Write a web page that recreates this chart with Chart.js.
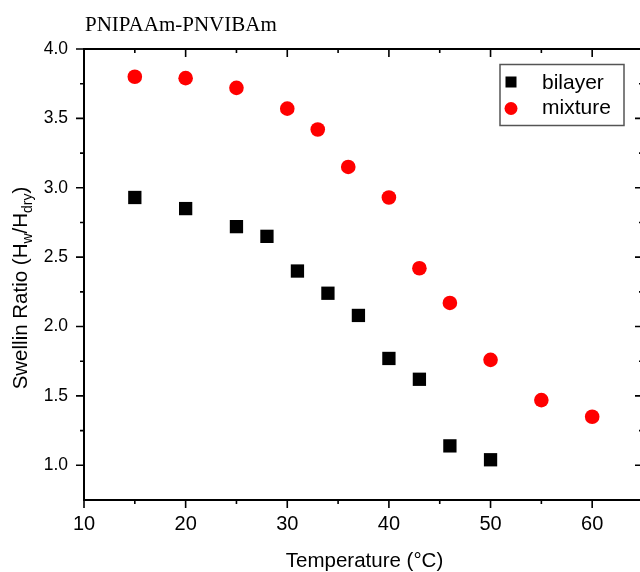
<!DOCTYPE html>
<html>
<head>
<meta charset="utf-8">
<script src="https://cdn.jsdelivr.net/npm/chart.js@4/dist/chart.umd.min.js"></script>
<style>
  html, body { margin: 0; padding: 0; background: #fff; overflow: hidden; width: 640px; height: 572px; }
  canvas { display: block; }
</style>
</head>
<body>
<canvas id="chart" width="680" height="572"></canvas>
<script>
// Swelling ratio vs. temperature for the two gel architectures
const temperatureBilayer = [15, 20, 25, 28, 31, 34, 37, 40, 43, 46, 50];
const ratioBilayer       = [2.93, 2.85, 2.72, 2.65, 2.40, 2.24, 2.08, 1.77, 1.62, 1.14, 1.04];
const temperatureMixture = [15, 20, 25, 30, 33, 36, 40, 43, 46, 50, 55, 60];
const ratioMixture       = [3.80, 3.79, 3.72, 3.57, 3.42, 3.15, 2.93, 2.42, 2.17, 1.76, 1.47, 1.35];

// Axis ticks
const xMajorTicks = [10, 20, 30, 40, 50, 60];
const xMinorTicks = [15, 25, 35, 45, 55, 65];
const yMajorTicks = [1.0, 1.5, 2.0, 2.5, 3.0, 3.5, 4.0];
const yMinorTicks = [1.25, 1.75, 2.25, 2.75, 3.25, 3.75];

const chartTitle = 'PNIPAAm-PNVIBAm';
const xTitle = 'Temperature (°C)';

const toPoints = (xs, ys) => xs.map((x, i) => ({ x, y: ys[i] }));

// Frame, inward/outward tick marks, titles and the boxed legend
const decorations = {
  id: 'decorations',
  afterDraw(chart) {
    const ctx = chart.ctx;
    const { left, right, top, bottom } = chart.chartArea;
    const xs = chart.scales.x, ys = chart.scales.y;
    ctx.save();

    // frame
    ctx.strokeStyle = '#000';
    ctx.lineWidth = 2;
    ctx.strokeRect(left, top, right - left, bottom - top);

    // tick marks
    ctx.lineWidth = 1.6;
    ctx.beginPath();
    const xTick = (v, len) => {
      const px = xs.getPixelForValue(v);
      ctx.moveTo(px, bottom); ctx.lineTo(px, bottom + len);   // bottom: outward
      ctx.moveTo(px, top);    ctx.lineTo(px, top + len);      // top: inward
    };
    const yTick = (v, len) => {
      const py = ys.getPixelForValue(v);
      ctx.moveTo(left, py);  ctx.lineTo(left - len, py);      // left: outward
      ctx.moveTo(right, py); ctx.lineTo(right - len, py);     // right: inward
    };
    xMajorTicks.forEach(v => xTick(v, 8));
    xMinorTicks.forEach(v => xTick(v, 4));
    yMajorTicks.forEach(v => yTick(v, 8));
    yMinorTicks.forEach(v => yTick(v, 4));
    ctx.stroke();

    // chart title
    ctx.fillStyle = '#000';
    ctx.textBaseline = 'alphabetic';
    ctx.textAlign = 'left';
    ctx.font = "21px 'Liberation Serif', 'Times New Roman', serif";
    ctx.fillText(chartTitle, left + 1, 31);

    // x axis title
    ctx.textAlign = 'center';
    ctx.font = "20.5px 'Liberation Sans', Arial, sans-serif";
    ctx.fillText(xTitle, (left + right) / 2 + 1, 567);

    // y axis title with subscripts
    const big = "20.5px 'Liberation Sans', Arial, sans-serif";
    const small = "14px 'Liberation Sans', Arial, sans-serif";
    const parts = [
      { t: 'Swellin Ratio (H', f: big, dy: 0 },
      { t: 'w', f: small, dy: 5 },
      { t: '/H', f: big, dy: 0 },
      { t: 'dry', f: small, dy: 5 },
      { t: ')', f: big, dy: 0 }
    ];
    let total = 0;
    parts.forEach(p => { ctx.font = p.f; p.w = ctx.measureText(p.t).width; total += p.w; });
    ctx.translate(27, 288);
    ctx.rotate(-Math.PI / 2);
    ctx.textAlign = 'left';
    let cx = -total / 2;
    parts.forEach(p => { ctx.font = p.f; ctx.fillText(p.t, cx, p.dy); cx += p.w; });
    ctx.setTransform(1, 0, 0, 1, 0, 0);

    // legend
    ctx.fillStyle = '#fff';
    ctx.fillRect(500, 64, 124, 61);
    ctx.strokeStyle = '#555';
    ctx.lineWidth = 1.5;
    ctx.strokeRect(500, 64.5, 124, 61);
    const ds = chart.data.datasets;
    ctx.font = "21px 'Liberation Sans', Arial, sans-serif";
    ctx.textAlign = 'left';
    // bilayer entry
    ctx.fillStyle = ds[0].backgroundColor;
    ctx.fillRect(511 - 5.5, 82 - 5.5, 11, 11);
    ctx.fillStyle = '#000';
    ctx.fillText(ds[0].label, 542, 89);
    // mixture entry
    ctx.fillStyle = ds[1].backgroundColor;
    ctx.beginPath();
    ctx.arc(511, 108.5, 6.5, 0, Math.PI * 2);
    ctx.fill();
    ctx.fillStyle = '#000';
    ctx.fillText(ds[1].label, 542, 114);

    ctx.restore();
  }
};

new Chart(document.getElementById('chart'), {
  type: 'scatter',
  data: {
    datasets: [
      {
        label: 'bilayer',
        data: toPoints(temperatureBilayer, ratioBilayer),
        pointStyle: 'rect',
        pointRadius: 9.4,
        borderWidth: 0,
        backgroundColor: '#000000',
        borderColor: '#000000'
      },
      {
        label: 'mixture',
        data: toPoints(temperatureMixture, ratioMixture),
        pointStyle: 'circle',
        pointRadius: 7.3,
        borderWidth: 0,
        backgroundColor: '#ff0000',
        borderColor: '#ff0000'
      }
    ]
  },
  options: {
    responsive: false,
    animation: false,
    devicePixelRatio: 1,
    layout: { padding: { left: 0, top: 49, right: 37, bottom: 0 } },
    plugins: { legend: { display: false }, tooltip: { enabled: false }, title: { display: false } },
    scales: {
      x: {
        type: 'linear',
        min: 10, max: 65,
        grid: { display: false, drawTicks: false },
        border: { display: false },
        afterBuildTicks: s => { s.ticks = xMajorTicks.map(v => ({ value: v })); },
        afterFit: s => { s.height = 72; },
        ticks: {
          padding: 12,
          color: '#000',
          maxRotation: 0,
          font: { family: "'Liberation Sans', Arial, sans-serif", size: 20 },
          callback: v => String(v)
        }
      },
      y: {
        type: 'linear',
        min: 0.75, max: 4.0,
        grid: { display: false, drawTicks: false },
        border: { display: false },
        afterBuildTicks: s => { s.ticks = yMajorTicks.map(v => ({ value: v })); },
        afterFit: s => { s.width = 84; },
        ticks: {
          padding: 16,
          color: '#000',
          font: { family: "'Liberation Sans', Arial, sans-serif", size: 17.5 },
          callback: v => Number(v).toFixed(1)
        }
      }
    }
  },
  plugins: [decorations]
});
</script>
</body>
</html>
